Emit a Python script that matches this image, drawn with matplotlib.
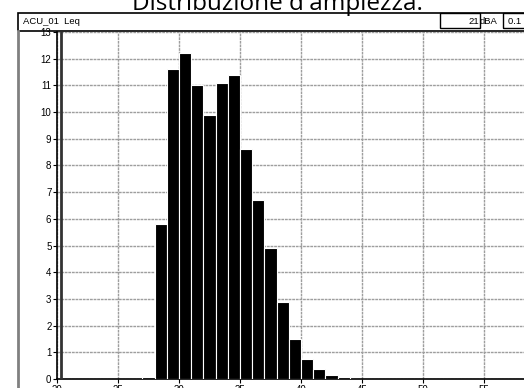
import matplotlib
matplotlib.use("Agg")
import matplotlib.pyplot as plt
from matplotlib.patches import Rectangle
from matplotlib.ticker import MultipleLocator

# Leq distribution, 1 dB classes
class_low = [27, 28, 29, 30, 31, 32, 33, 34, 35, 36, 37, 38, 39, 40, 41, 42, 43]
percent = [0.08, 5.8, 11.6, 12.2, 11.0, 9.9, 11.1, 11.4, 8.6, 6.7, 4.9, 2.9, 1.5, 0.75, 0.38, 0.15, 0.08]
cursor_db = 20.35
channel = "ACU_01  Leq"
cursor_value = "21"
unit = "dBA"
step_text = "0.1 s"
title = "Distribuzione d'ampiezza."

W, H = 524, 388
fig = plt.figure(figsize=(W / 100, H / 100), dpi=100)
fig.patch.set_facecolor("white")

def fx(px):
    return px / W

def fy(py):
    return 1 - py / H

# axes run past the right edge of the page
ax = fig.add_axes([fx(57), fy(379), 488 / W, (379 - 32) / H])
ax.set_xlim(20, 60)
ax.set_ylim(0, 13)
ax.bar(class_low, percent, width=1.0, align="edge", color="black",
       edgecolor="white", linewidth=0.8, zorder=3)
ax.axvline(cursor_db, color="#333333", lw=2, zorder=4)

ax.xaxis.set_major_locator(MultipleLocator(5))
ax.yaxis.set_major_locator(MultipleLocator(1))
ax.grid(True, color="0.62", linestyle=(0, (2, 0.6)), lw=1, zorder=1)
ax.tick_params(axis="both", labelsize=7, length=3, width=0.8, pad=1,
               colors="black")
for lab in ax.get_xticklabels() + ax.get_yticklabels():
    lab.set_family("Liberation Sans")
for side in ["top", "right"]:
    ax.spines[side].set_visible(False)
for side in ["left", "bottom"]:
    ax.spines[side].set_linewidth(1.2)

# header strip and frame
fig.patches.append(Rectangle((fx(18), fy(31)), fx(520), 18 / H, transform=fig.transFigure,
                             fill=False, edgecolor="black", lw=1.2))
fig.patches.append(Rectangle((fx(440), fy(28)), fx(40), 15 / H, transform=fig.transFigure,
                             fill=False, edgecolor="black", lw=1))
fig.patches.append(Rectangle((fx(503), fy(28)), fx(40), 15 / H, transform=fig.transFigure,
                             fill=False, edgecolor="black", lw=1))
fig.lines.append(plt.Line2D([fx(18), fx(18)], [fy(31), 0], transform=fig.transFigure,
                            color="0.5", lw=2))

hdr = dict(fontsize=6.8, family="Liberation Sans", va="center")
fig.text(fx(23), fy(21.5), channel, ha="left", **hdr)
fig.text(fx(479), fy(21.5), cursor_value, ha="right", **hdr)
fig.text(fx(480), fy(21.5), unit, ha="left", **hdr)
fig.text(fx(508), fy(21.5), step_text, ha="left", **hdr)

fig.text(fx(277), fy(10), title, ha="center", va="baseline", fontsize=17.5,
         family="Open Sans")

fig.savefig("out.png", dpi=100)
